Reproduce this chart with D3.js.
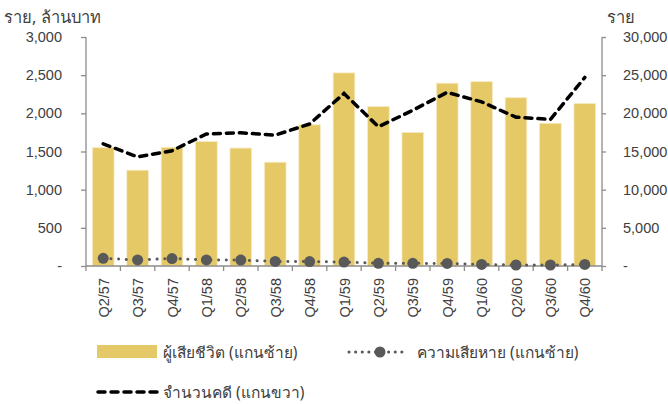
<!DOCTYPE html>
<meta charset="utf-8">
<head>
    <title>Accident chart</title>
    <script type="text/javascript" src="https://d3js.org/d3.v7.min.js"></script>
    <style>
        body {
            margin: 0;
            padding: 0;
            background: white;
        }
        text {
            font-family: "Liberation Sans", Arial, "Noto Sans", sans-serif;
            fill: #404040;
        }
        .thai {
            font-family: "Noto Sans", "Liberation Sans", sans-serif;
        }
    </style>
</head>

<body>
    <script>
        // Data
        const quarters = ["Q2/57", "Q3/57", "Q4/57", "Q1/58", "Q2/58", "Q3/58", "Q4/58", "Q1/59",
                          "Q2/59", "Q3/59", "Q4/59", "Q1/60", "Q2/60", "Q3/60", "Q4/60"];
        const deaths = [1550, 1255, 1555, 1630, 1545, 1360, 1850, 2530,
                        2090, 1750, 2395, 2415, 2205, 1870, 2130];
        const losses = [100, 80, 98, 79, 78, 60, 58, 52, 35, 35, 33, 20, 13, 13, 20];
        const cases = [16000, 14300, 15100, 17300, 17450, 17150, 18600, 22600,
                       18250, 20400, 22750, 21500, 19500, 19200, 24700];
        const leftTicks = [0, 500, 1000, 1500, 2000, 2500, 3000];
        const rightTicks = [0, 5000, 10000, 15000, 20000, 25000, 30000];

        const width = 668, height = 404;
        const margin = ({top: 37, right: 66, bottom: 138, left: 86});

        const svg = d3.select("body")
            .append("svg")
            .attr("width", width)
            .attr("height", height);

        const x = d3.scaleBand()
            .domain(quarters)
            .range([margin.left, width - margin.right])
            .paddingInner(0.37)
            .paddingOuter(0.185);

        const yLeft = d3.scaleLinear().domain([0, 3000]).range([height - margin.bottom, margin.top]);
        const yRight = d3.scaleLinear().domain([0, 30000]).range([height - margin.bottom, margin.top]);

        const fmt = d => d === 0 ? "-" : d3.format(",")(d);
        const axisColor = "#8c8c8c";

        // bars
        svg.append("g")
            .selectAll("rect")
            .data(deaths)
            .enter()
            .append("rect")
            .attr("x", (d, i) => x(quarters[i]))
            .attr("width", x.bandwidth())
            .attr("y", d => yLeft(d))
            .attr("height", d => yLeft(0) - yLeft(d))
            .attr("fill", "#e6c967")
            .attr("stroke", "#f6ecc6")
            .attr("stroke-width", 0.8);

        // left axis
        const gl = svg.append("g")
            .attr("transform", `translate(${margin.left},0)`)
            .call(d3.axisLeft(yLeft).tickValues(leftTicks).tickFormat(fmt).tickSize(5).tickPadding(19));
        // right axis
        const gr = svg.append("g")
            .attr("transform", `translate(${width - margin.right},0)`)
            .call(d3.axisRight(yRight).tickValues(rightTicks).tickFormat(fmt).tickSize(4).tickPadding(17));
        // bottom axis, ticks between bands
        const gb = svg.append("g")
            .attr("transform", `translate(0,${height - margin.bottom})`);
        const step = x.step();
        gb.append("line")
            .attr("x1", margin.left).attr("x2", width - margin.right)
            .attr("stroke", axisColor).attr("stroke-width", 1.3);
        gb.selectAll(".tk")
            .data(d3.range(quarters.length + 1))
            .enter()
            .append("line")
            .attr("x1", i => margin.left + i * step)
            .attr("x2", i => margin.left + i * step)
            .attr("y1", 0).attr("y2", 5)
            .attr("stroke", axisColor).attr("stroke-width", 1.3);
        gb.selectAll(".lbl")
            .data(quarters)
            .enter()
            .append("text")
            .attr("transform", d => `translate(${x(d) + x.bandwidth() / 2 + 5.5},${12}) rotate(-90)`)
            .attr("text-anchor", "end")
            .attr("font-size", 14.5)
            .text(d => d);

        [gl, gr].forEach(g => {
            g.select(".domain").attr("stroke", axisColor).attr("stroke-width", 1.3);
            g.selectAll(".tick line").attr("stroke", axisColor).attr("stroke-width", 1.3);
            g.selectAll(".tick text").attr("font-size", 14.5).attr("fill", "#404040")
                .style("font-family", '"Liberation Sans", Arial, sans-serif');
        });
        gl.select(".domain").attr("d", `M0,${margin.top}V${height - margin.bottom}`);
        gr.select(".domain").attr("d", `M0,${margin.top}V${height - margin.bottom}`);

        // losses, dotted line with markers
        const cx = q => x(q) + x.bandwidth() / 2;
        const lossLine = d3.line()
            .x((d, i) => cx(quarters[i]))
            .y(d => yLeft(d));
        svg.append("path")
            .datum(losses)
            .attr("d", lossLine)
            .attr("fill", "none")
            .attr("stroke", "#595959")
            .attr("stroke-width", 3)
            .attr("stroke-linecap", "round")
            .attr("stroke-dasharray", "0.1,7.6");
        svg.append("g")
            .selectAll("circle")
            .data(losses)
            .enter()
            .append("circle")
            .attr("cx", (d, i) => cx(quarters[i]))
            .attr("cy", d => yLeft(d))
            .attr("r", 5.5)
            .attr("fill", "#595959");

        // cases, dashed line on right axis
        const caseLine = d3.line()
            .x((d, i) => cx(quarters[i]))
            .y(d => yRight(d));
        svg.append("path")
            .datum(cases)
            .attr("d", caseLine)
            .attr("fill", "none")
            .attr("stroke", "black")
            .attr("stroke-width", 3.5)
            .attr("stroke-linecap", "round")
            .attr("stroke-dasharray", "7,6");

        // axis titles
        svg.append("text").attr("class", "thai")
            .attr("x", 4).attr("y", 23)
            .attr("font-size", 16.5)
            .text("ราย, ล้านบาท");
        svg.append("text").attr("class", "thai")
            .attr("x", 607).attr("y", 23)
            .attr("font-size", 16.5)
            .text("ราย");

        // legend
        const legend = svg.append("g");
        legend.append("rect")
            .attr("x", 97).attr("y", 345).attr("width", 60).attr("height", 13)
            .attr("fill", "#e6c967");
        legend.append("text").attr("class", "thai")
            .attr("x", 163).attr("y", 358).attr("font-size", 15.5)
            .text("ผู้เสียชีวิต (แกนซ้าย)");

        legend.append("line")
            .attr("x1", 349).attr("x2", 407).attr("y1", 352).attr("y2", 352)
            .attr("stroke", "#595959").attr("stroke-width", 3)
            .attr("stroke-linecap", "round").attr("stroke-dasharray", "0.1,6.5");
        legend.append("circle")
            .attr("cx", 380).attr("cy", 352).attr("r", 5.5).attr("fill", "#595959");
        legend.append("text").attr("class", "thai")
            .attr("x", 417).attr("y", 358).attr("font-size", 15.5)
            .text("ความเสียหาย (แกนซ้าย)");

        legend.append("line")
            .attr("x1", 98).attr("x2", 157).attr("y1", 392).attr("y2", 392)
            .attr("stroke", "black").attr("stroke-width", 3.5)
            .attr("stroke-linecap", "round").attr("stroke-dasharray", "7,6");
        legend.append("text").attr("class", "thai")
            .attr("x", 163).attr("y", 398).attr("font-size", 15.5)
            .text("จำนวนคดี (แกนขวา)");
    </script>
</body>
</html>
